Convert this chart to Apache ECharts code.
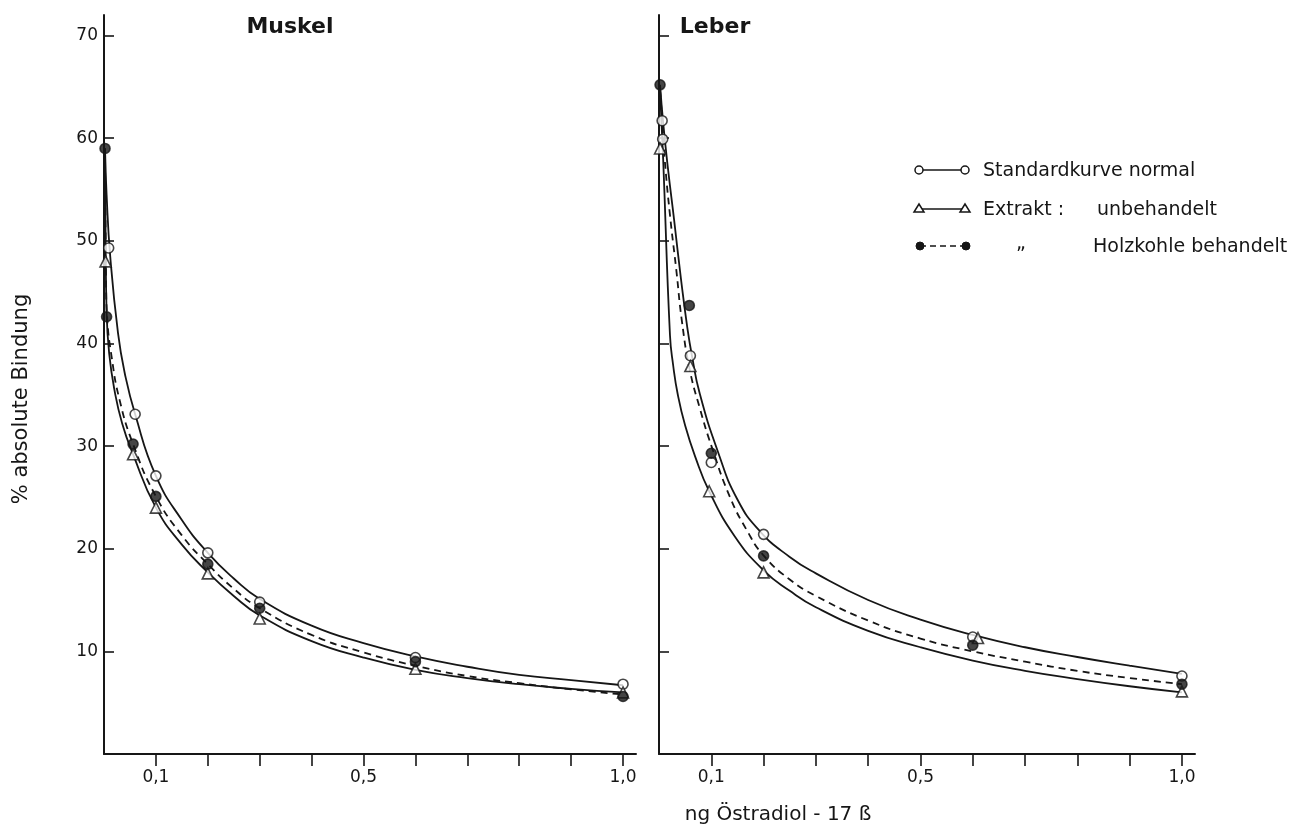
<!DOCTYPE html>
<html>
<head>
<meta charset="utf-8">
<title>Muskel / Leber</title>
<script src="https://cdn.jsdelivr.net/npm/echarts@6/dist/echarts.min.js"></script>
<style>
  html, body { margin: 0; padding: 0; background: #fff; }
  #chart { width: 1313px; height: 830px; }
</style>
</head>
<body>
<div id="chart"></div>
<script>
// ticks
var xTicks = [0.1, 0.2, 0.3, 0.4, 0.5, 0.6, 0.7, 0.8, 0.9, 1.0];
var xLabels = [0.1, 0.5, 1.0];
var yTicks = [10, 20, 30, 40, 50, 60, 70];

// Muskel - fitted curves [ng, %]
var muskelStdCurve = [[0.002,59],[0.005,54.5],[0.012,48.5],[0.027,41],[0.04,37.1],[0.06,33.1],[0.1,27.1],[0.15,22.8],[0.2,19.6],[0.25,17.1],[0.3,15.1],[0.4,12.5],[0.5,10.8],[0.6,9.5],[0.7,8.5],[0.8,7.7],[0.9,7.2],[1.0,6.7]];
var muskelExtCurve = [[0.002,59],[0.003,51],[0.005,43],[0.01,39],[0.02,35.5],[0.035,32.2],[0.056,29.2],[0.1,24],[0.15,20.4],[0.2,17.7],[0.25,15.4],[0.3,13.5],[0.4,11.0],[0.5,9.4],[0.6,8.2],[0.7,7.4],[0.8,6.8],[0.9,6.35],[1.0,6.0]];
var muskelKohleCurve = [[0.002,59],[0.004,46],[0.006,42.6],[0.015,38.6],[0.03,34.5],[0.056,30.2],[0.1,25.1],[0.15,21.3],[0.2,18.5],[0.25,16.1],[0.3,14.2],[0.4,11.6],[0.5,9.9],[0.6,8.6],[0.7,7.6],[0.8,6.9],[0.9,6.3],[1.0,5.8]];
// Muskel - measured points
var muskelStd = [[0.009,49.3],[0.06,33.1],[0.1,27.1],[0.2,19.6],[0.3,14.8],[0.6,9.4],[1.0,6.8]];
var muskelExt = [[0.003,48],[0.056,29.2],[0.1,24.0],[0.2,17.6],[0.3,13.2],[0.6,8.3],[1.0,6.0]];
var muskelKohle = [[0.002,59],[0.005,42.6],[0.056,30.2],[0.1,25.1],[0.2,18.5],[0.3,14.2],[0.6,9.0],[1.0,5.6]];

// Leber - fitted curves
var leberStdCurve = [[0.002,65.2],[0.008,61.5],[0.017,57.1],[0.029,52],[0.042,46.3],[0.054,41.6],[0.063,38.8],[0.078,35.1],[0.113,29.4],[0.15,24.8],[0.193,21.7],[0.25,19.2],[0.3,17.6],[0.4,15.0],[0.5,13.1],[0.6,11.6],[0.7,10.4],[0.8,9.45],[0.9,8.6],[1.0,7.8]];
var leberExtCurve = [[0.002,64.7],[0.008,57.9],[0.021,40.8],[0.027,37.9],[0.036,35],[0.05,32.0],[0.069,29.0],[0.096,25.6],[0.145,21.2],[0.2,17.9],[0.25,15.9],[0.3,14.3],[0.4,12.0],[0.5,10.4],[0.6,9.1],[0.7,8.1],[0.8,7.3],[0.9,6.6],[1.0,6.0]];
var leberKohleCurve = [[0.002,64.7],[0.006,61.8],[0.011,57.9],[0.021,52.5],[0.033,47.2],[0.044,42.1],[0.059,37.4],[0.078,33.7],[0.101,29.9],[0.136,25],[0.168,21.8],[0.199,19.4],[0.25,17.0],[0.3,15.4],[0.4,13.0],[0.5,11.25],[0.6,10.0],[0.7,9.0],[0.8,8.1],[0.9,7.4],[1.0,6.8]];
// Leber - measured points
var leberStd = [[0.006,61.7],[0.007,59.9],[0.06,38.8],[0.1,28.4],[0.2,21.4],[0.6,11.4],[1.0,7.6]];
var leberExt = [[0.002,59],[0.06,37.8],[0.096,25.6],[0.2,17.7],[0.61,11.3],[1.0,6.1]];
var leberKohle = [[0.002,65.2],[0.058,43.7],[0.1,29.3],[0.2,19.3],[0.6,10.6],[1.0,6.8]];

var ink = '#161616';
var font = '"DejaVu Sans", sans-serif';

var chart = echarts.init(document.getElementById('chart'), null, { renderer: 'canvas' });

function makeX(grid) {
  return {
    gridIndex: grid, type: 'value', min: 0, max: 1.025,
    axisLine: { show: true, onZero: false, lineStyle: { color: ink, width: 2 } },
    axisTick: { show: true, inside: false, length: 12, customValues: xTicks, lineStyle: { color: ink, width: 1.6 } },
    axisLabel: {
      customValues: xLabels, margin: 15, color: ink, fontSize: 17, fontFamily: font,
      formatter: function (v) { return v.toFixed(1).replace('.', ','); }
    },
    splitLine: { show: false }
  };
}

function makeY(grid, withLabels) {
  return {
    gridIndex: grid, type: 'value', min: 0, max: 72,
    axisLine: { show: true, onZero: false, lineStyle: { color: ink, width: 2 } },
    axisTick: { show: true, inside: true, length: 10, customValues: yTicks, lineStyle: { color: ink, width: 1.6 } },
    axisLabel: { show: withLabels, customValues: yTicks, margin: 6, color: ink, fontSize: 17, fontFamily: font },
    splitLine: { show: false }
  };
}

function curve(grid, data, dashed) {
  return {
    type: 'line', xAxisIndex: grid, yAxisIndex: grid, data: data,
    smooth: 0.5, symbol: 'none', silent: true,
    lineStyle: { color: ink, width: 1.8, type: dashed ? [7, 5] : 'solid' },
    z: 2
  };
}

function points(grid, data, kind) {
  return {
    type: 'scatter', xAxisIndex: grid, yAxisIndex: grid, data: data, silent: true,
    symbol: kind === 'tri' ? 'triangle' : 'circle',
    symbolSize: kind === 'tri' ? 11 : 10,
    itemStyle: { color: kind === 'fill' ? ink : '#fff', borderColor: ink, borderWidth: 1.6 },
    z: 3
  };
}

var legendY = [170, 209, 246];
var legend = [];
// row 1: open circles, solid
legend.push({ type: 'line', shape: { x1: 919, y1: legendY[0], x2: 965, y2: legendY[0] }, style: { stroke: ink, lineWidth: 1.6 } });
[919, 965].forEach(function (cx) {
  legend.push({ type: 'circle', shape: { cx: cx, cy: legendY[0], r: 4 }, style: { fill: '#fff', stroke: ink, lineWidth: 1.5 } });
});
// row 2: triangles, solid
legend.push({ type: 'line', shape: { x1: 919, y1: legendY[1], x2: 965, y2: legendY[1] }, style: { stroke: ink, lineWidth: 1.6 } });
[919, 965].forEach(function (cx) {
  legend.push({ type: 'polygon', shape: { points: [[cx, legendY[1] - 5], [cx - 5, legendY[1] + 3], [cx + 5, legendY[1] + 3]] }, style: { fill: '#fff', stroke: ink, lineWidth: 1.5 } });
});
// row 3: filled dots, dashed
legend.push({ type: 'line', shape: { x1: 920, y1: legendY[2], x2: 966, y2: legendY[2] }, style: { stroke: ink, lineWidth: 1.6, lineDash: [6, 4] } });
[920, 966].forEach(function (cx) {
  legend.push({ type: 'circle', shape: { cx: cx, cy: legendY[2], r: 4 }, style: { fill: ink, stroke: ink, lineWidth: 1 } });
});

function txt(x, y, s, size, weight) {
  return { type: 'text', x: x, y: y, style: { text: s, fill: ink, fontSize: size, fontWeight: weight || 'normal', fontFamily: font, verticalAlign: 'middle', align: 'left' } };
}
legend.push(txt(983, legendY[0] + 1, 'Standardkurve normal', 19));
legend.push(txt(983, legendY[1] + 1, 'Extrakt :', 19));
legend.push(txt(1097, legendY[1] + 1, 'unbehandelt', 19));
legend.push(txt(1016, legendY[2] - 2, '\u201E', 19));
legend.push(txt(1093, legendY[2] + 1, 'Holzkohle behandelt', 19));

var titles = [
  { type: 'text', x: 290, y: 27, style: { text: 'Muskel', fill: ink, fontSize: 22, fontWeight: 'bold', fontFamily: font, align: 'center', verticalAlign: 'middle' } },
  { type: 'text', x: 715, y: 27, style: { text: 'Leber', fill: ink, fontSize: 22, fontWeight: 'bold', fontFamily: font, align: 'center', verticalAlign: 'middle' } },
  { type: 'text', x: 778, y: 815, style: { text: 'ng Östradiol - 17 ß', fill: ink, fontSize: 20, fontFamily: font, align: 'center', verticalAlign: 'middle' } },
  { type: 'text', x: 22, y: 399, rotation: Math.PI / 2, style: { text: '% absolute Bindung', fill: ink, fontSize: 21, fontFamily: font, align: 'center', verticalAlign: 'middle' } }
];

var option = {
  backgroundColor: '#fff',
  animation: false,
  grid: [
    { left: 104, top: 15, width: 532, bottom: 76 },
    { left: 659, top: 15, width: 536, bottom: 76 }
  ],
  xAxis: [makeX(0), makeX(1)],
  yAxis: [makeY(0, true), makeY(1, false)],
  series: [
    curve(0, muskelStdCurve, false),
    curve(0, muskelExtCurve, false),
    curve(0, muskelKohleCurve, true),
    points(0, muskelStd, 'open'),
    points(0, muskelExt, 'tri'),
    points(0, muskelKohle, 'fill'),
    curve(1, leberStdCurve, false),
    curve(1, leberExtCurve, false),
    curve(1, leberKohleCurve, true),
    points(1, leberStd, 'open'),
    points(1, leberExt, 'tri'),
    points(1, leberKohle, 'fill')
  ],
  graphic: titles.concat(legend)
};

chart.setOption(option);
</script>
</body>
</html>
